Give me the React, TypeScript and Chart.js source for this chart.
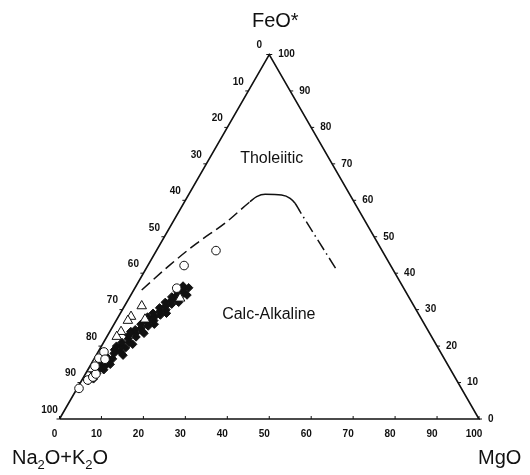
import React, { useEffect, useRef } from 'react';
import { Chart, registerables } from 'chart.js';

Chart.register(...registerables);

// Ternary AFM diagram: A = Na2O+K2O, F = FeO*, M = MgO (wt %, A = 100 - F - M)
const TICK_VALUES = [0, 10, 20, 30, 40, 50, 60, 70, 80, 90, 100];
const TICK_LABELS = ['0', '10', '20', '30', '40', '50', '60', '70', '80', '90', '100'];

// Triangle outline vertices (A corner, M corner, F corner, back to A)
const OUTLINE_FEO = [0, 0, 100, 0];
const OUTLINE_MGO = [0, 100, 0, 0];

// Tholeiitic / calc-alkaline boundary
const BOUNDARY_FEO = [35.4, 42.3, 48.2, 54.1, 59.6, 61.0, 61.65, 61.45, 60.55, 59.2, 56.9, 41.1];
const BOUNDARY_MGO = [1.9, 5.2, 8.6, 12.8, 15.6, 16.5, 18.2, 22.2, 24.7, 26.55, 28.9, 45.4];

// Filled diamonds
const DIAMOND_FEO = [
  10.5, 11, 11.5, 12.5, 13, 13.5, 14, 14.5, 15, 15.5, 16, 16.5, 17, 17.5, 18, 18.5, 19, 19.5,
  20, 20, 20.5, 21, 21, 22, 22.5, 23, 23.5, 23.5, 24, 24, 24.5, 25, 25.5, 26, 26, 26.5, 27,
  27.5, 28, 28, 28.5, 29, 29, 29.5, 30, 30.5, 31, 31.5, 32, 32, 32.5, 33, 33.5, 34, 34,
  34.5, 35, 35.5, 36, 36.5,
];
const DIAMOND_MGO = [
  1.6, 2.6, 1.8, 2.6, 1.6, 3.8, 2.8, 3.6, 4.6, 2.4, 3.4, 4.4, 2.8, 6.4, 4.0, 5.2, 3.6, 6.0,
  4.8, 3.6, 7.2, 4.4, 6.2, 5.4, 7.0, 5.0, 6.4, 8.4, 7.8, 5.0, 5.8, 7.0, 8.4, 6.4, 9.6, 7.8, 9.0,
  7.2, 8.6, 7.0, 9.8, 7.8, 11.0, 9.2, 10.4, 8.6, 9.8, 11.0, 9.2, 12.4, 10.4, 11.6, 10.0, 11.0, 13.4,
  12.4, 10.6, 11.8, 12.8, 11.2,
];

// Open circles
const CIRCLE_FEO = [8.4, 10.7, 11.5, 12.35, 14.5, 16.7, 18.4, 16.4, 35.9, 42.1, 46.2];
const CIRCLE_MGO = [0.45, 1.4, 2.2, 2.5, 1.2, 1.05, 1.4, 2.65, 10.0, 8.65, 14.2];

// Open triangles
const TRIANGLE_FEO = [31.0, 28.1, 27.0, 27.35, 23.95, 22.6, 33.1, 15.4, 13.7];
const TRIANGLE_MGO = [4.1, 3.0, 2.8, 6.7, 2.7, 2.35, 12.2, 0.8, 0.9];

const H = Math.sqrt(3) / 2;
const toXY = (feo: number[], mgo: number[]) =>
  feo.map((f, i) => ({ x: mgo[i] + f / 2, y: f * H }));

const FONT = '"Liberation Sans", Arial, Helvetica, sans-serif';
const INK = '#111';

const annotationPlugin = {
  id: 'ternaryAnnotations',
  afterDatasetsDraw(chart: any) {
    const { ctx } = chart;
    const xs = chart.scales.x;
    const ys = chart.scales.y;
    const P = (f: number, m: number) => ({
      px: xs.getPixelForValue(m + f / 2),
      py: ys.getPixelForValue(f * H),
    });
    ctx.save();
    ctx.fillStyle = INK;
    ctx.strokeStyle = INK;
    ctx.lineWidth = 1;
    ctx.font = `bold 10px ${FONT}`;
    ctx.textBaseline = 'middle';
    TICK_VALUES.forEach((v, i) => {
      const lab = TICK_LABELS[i];
      // left side: Na2O+K2O = v
      const l = P(100 - v, 0);
      ctx.beginPath();
      ctx.moveTo(l.px - 3, l.py);
      ctx.lineTo(l.px, l.py);
      ctx.stroke();
      ctx.textAlign = 'center';
      ctx.fillText(lab, l.px - 10, l.py - 9);
      // right side: FeO* = v
      const r = P(v, 100 - v);
      ctx.beginPath();
      ctx.moveTo(r.px, r.py);
      ctx.lineTo(r.px + 3, r.py);
      ctx.stroke();
      ctx.textAlign = 'left';
      ctx.fillText(lab, r.px + 9, r.py);
      // bottom side: MgO = v
      const b = P(0, v);
      ctx.beginPath();
      ctx.moveTo(b.px, b.py - 3);
      ctx.lineTo(b.px, b.py);
      ctx.stroke();
      ctx.textAlign = 'center';
      ctx.fillText(lab, b.px - 5, b.py + 15);
    });

    // Vertex titles
    const apex = P(100, 0);
    const left = P(0, 0);
    const right = P(0, 100);
    ctx.textBaseline = 'alphabetic';
    ctx.font = `20px ${FONT}`;
    ctx.textAlign = 'center';
    ctx.fillText('FeO*', apex.px + 6, apex.py - 28);

    ctx.textAlign = 'left';
    ctx.fillText('MgO', right.px - 1, right.py + 45);

    // Na2O+K2O with subscripts
    const parts: [string, boolean][] = [['Na', false], ['2', true], ['O+K', false], ['2', true], ['O', false]];
    let cx = left.px - 47.5;
    const base = left.py + 45;
    parts.forEach(([t, sub]) => {
      ctx.font = sub ? `13px ${FONT}` : `20px ${FONT}`;
      ctx.fillText(t, cx, sub ? base + 5 : base);
      cx += ctx.measureText(t).width;
    });

    // Field labels
    ctx.font = `16px ${FONT}`;
    ctx.textAlign = 'center';
    ctx.textBaseline = 'middle';
    ctx.fillText('Tholeiitic', xs.getPixelForValue(50.6), ys.getPixelForValue(61.8));
    ctx.fillText('Calc-Alkaline', xs.getPixelForValue(49.9), ys.getPixelForValue(24.8));
    ctx.restore();
  },
};

export default function App() {
  const canvasRef = useRef<HTMLCanvasElement | null>(null);

  useEffect(() => {
    if (!canvasRef.current) return;
    const chart = new Chart(canvasRef.current, {
      type: 'scatter',
      data: {
        datasets: [
          {
            label: 'Open circles',
            data: toXY(CIRCLE_FEO, CIRCLE_MGO),
            pointStyle: 'circle',
            pointRadius: 4.3,
            pointBackgroundColor: '#fff',
            pointBorderColor: INK,
            pointBorderWidth: 1,
            clip: false,
          },
          {
            label: 'Open triangles',
            data: toXY(TRIANGLE_FEO, TRIANGLE_MGO),
            pointStyle: 'triangle',
            pointRadius: 5.5,
            pointBackgroundColor: '#fff',
            pointBorderColor: INK,
            pointBorderWidth: 1,
            clip: false,
          },
          {
            label: 'Filled diamonds',
            data: toXY(DIAMOND_FEO, DIAMOND_MGO),
            pointStyle: 'rectRot',
            pointRadius: 4.2,
            pointBackgroundColor: INK,
            pointBorderColor: INK,
            pointBorderWidth: 1,
            clip: false,
          },
          {
            label: 'Boundary',
            data: toXY(BOUNDARY_FEO, BOUNDARY_MGO),
            showLine: true,
            pointRadius: 0,
            borderColor: INK,
            borderWidth: 1.5,
            cubicInterpolationMode: 'monotone',
            segment: {
              borderDash: (c: any) =>
                c.p0DataIndex >= 4 && c.p1DataIndex <= 9
                  ? []
                  : c.p0DataIndex >= 9
                  ? [12, 4, 1.5, 4]
                  : [11, 5],
            },
            clip: false,
          },
          {
            label: 'Outline',
            data: toXY(OUTLINE_FEO, OUTLINE_MGO),
            showLine: true,
            pointRadius: 0,
            borderColor: INK,
            borderWidth: 1.6,
            borderJoinStyle: 'miter',
            clip: false,
          },
        ],
      },
      options: {
        responsive: false,
        devicePixelRatio: 1,
        animation: false,
        layout: { padding: { left: 59.5, right: 51, top: 54.5, bottom: 56 } },
        scales: {
          x: { type: 'linear', display: false, min: 0, max: 100 },
          y: { type: 'linear', display: false, min: 0, max: 100 * H },
        },
        plugins: {
          legend: { display: false },
          tooltip: { enabled: false },
        },
      },
      plugins: [annotationPlugin],
    } as any);
    return () => chart.destroy();
  }, []);

  return (
    <div style={{ position: 'absolute', left: 0, top: 0, width: 530, height: 475, background: '#fff' }}>
      <canvas ref={canvasRef} width={530} height={475} style={{ display: 'block' }} />
    </div>
  );
}
